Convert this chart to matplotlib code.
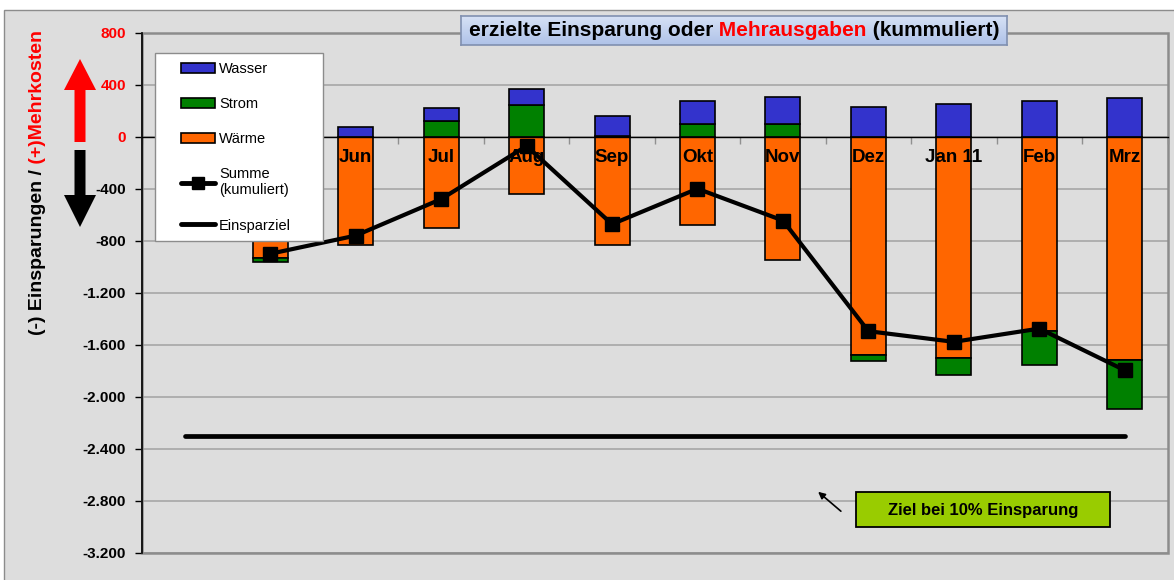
import numpy as np
import matplotlib
matplotlib.use("Agg")
import matplotlib.pyplot as plt
import matplotlib.patches as mpatches
from matplotlib.lines import Line2D
from matplotlib.legend_handler import HandlerPatch, HandlerLine2D
from matplotlib.transforms import IdentityTransform
from matplotlib.ticker import FuncFormatter, FixedLocator
from matplotlib.colors import LinearSegmentedColormap

plt.rcParams['font.family'] = ['Liberation Sans', 'DejaVu Sans']

# data (EUR, cumulative)
months = ["Apr", "Mai", "Jun", "Jul", "Aug", "Sep", "Okt", "Nov", "Dez", "Jan 11", "Feb", "Mrz"]
waerme = [np.nan, -930, -832, -700, -440, -832, -677, -948, -1681, -1702, -1495, -1715]
strom = [np.nan, -30, 0, 120, 242, 10, 103, 103, -44, -128, -258, -383]
wasser = [np.nan, 60, 77, 103, 123, 154, 177, 204, 229, 252, 275, 301]
summe = [np.nan, -900, -760, -479, -70, -672, -399, -644, -1496, -1578, -1476, -1797]
einsparziel = [-2300] * 12
yticks = list(range(-3200, 801, 400))

c_wasser = '#3333CC'
c_strom = '#008000'
c_waerme = '#FF6600'
bg = '#DDDDDD'

W, H = 1174, 580
fig = plt.figure(figsize=(W / 100, H / 100), dpi=100, facecolor='white')

# chart area
fig.add_artist(mpatches.Rectangle((4, -10), 1300, H - 9.5 + 10, transform=IdentityTransform(),
                                  facecolor=bg, edgecolor='#8C8C8C', lw=1, zorder=-1))

ax = fig.add_axes([142 / W, (H - 552.5) / H, (1167.5 - 142) / W, (552.5 - 33) / H])
ax.set_facecolor(bg)

# spines first: moving the bottom spine resets the ticks
ax.spines['bottom'].set_position(('data', 0))
ax.spines['bottom'].set_color('black')
ax.spines['bottom'].set_linewidth(1)
ax.spines['left'].set_color('black')
ax.spines['left'].set_linewidth(1.2)
ax.spines['left'].set_zorder(2.6)
ax.spines['top'].set_visible(False)
ax.spines['right'].set_visible(False)

x = np.arange(len(months))
waerme_a = np.array(waerme, dtype=float)
strom_a = np.array(strom, dtype=float)
wasser_a = np.array(wasser, dtype=float)
# positives stack up from zero, negatives stack down below Wärme
strom_bottom = np.where(strom_a >= 0, 0, waerme_a)
wasser_bottom = np.where(strom_a > 0, strom_a, 0)

bw = 0.41
ax.bar(x, waerme_a, bw, color=c_waerme, edgecolor='black', lw=1.2, zorder=1)
ax.bar(x, strom_a, bw, bottom=strom_bottom, color=c_strom, edgecolor='black', lw=1.2, zorder=1)
ax.bar(x, wasser_a, bw, bottom=wasser_bottom, color=c_wasser, edgecolor='black', lw=1.2, zorder=1)

ax.plot(x, einsparziel, color='black', lw=3.4, solid_capstyle='round', zorder=3)
ax.plot(x, summe, color='black', lw=3, marker='s', markersize=9.5, zorder=3)

ax.set_xlim(-0.5, len(months) - 0.5)
ax.set_ylim(-3200, 800)

# grid below bars, category labels above bars
ax.set_yticks(yticks)
ax.yaxis.grid(True, color='#A6A6A6', lw=1.2)
ax.set_axisbelow(True)
ax.xaxis.set_zorder(1.5)

ax.yaxis.set_major_formatter(FuncFormatter(lambda v, p: f"{v:,.0f}".replace(",", ".")))
ax.tick_params(axis='y', length=5, width=1, color='black', pad=6.5, labelsize=11)
for lab, v in zip(ax.get_yticklabels(), yticks):
    lab.set_fontweight('bold')
    lab.set_color('red' if v >= 0 else 'black')

ax.set_xticks(x)
ax.set_xticklabels(months, fontsize=13.5, fontweight='bold')
ax.xaxis.set_minor_locator(FixedLocator(np.arange(-0.5, len(months), 1.0)))
ax.tick_params(axis='x', which='major', length=0, pad=9)
ax.tick_params(axis='x', which='minor', length=5, width=1, color='#909090')

ax.add_patch(mpatches.Rectangle((0, 0), 1, 1, transform=ax.transAxes, fill=False,
                                edgecolor='#8C8C8C', lw=1.8, zorder=0.6, clip_on=False))

# legend
fs = 10.5
handles = [mpatches.Patch(facecolor=c_wasser, edgecolor='black', lw=1.2),
           mpatches.Patch(facecolor=c_strom, edgecolor='black', lw=1.2),
           mpatches.Patch(facecolor=c_waerme, edgecolor='black', lw=1.2),
           Line2D([], [], color='black', lw=3.5, marker='s', markersize=8, solid_capstyle='round'),
           Line2D([], [], color='black', lw=3.5, solid_capstyle='round')]
labels = ["Wasser", "Strom", "Wärme", "Summe\n(kumuliert)", "Einsparziel"]
leg = ax.legend(handles, labels, loc='upper left', mode='expand',
                bbox_to_anchor=(155 / W, (H - 248) / H, 168 / W, 195 / H),
                bbox_transform=fig.transFigure, borderaxespad=0, fontsize=fs,
                frameon=True, fancybox=False, framealpha=1, facecolor='white', edgecolor='#8C8C8C',
                borderpad=0.6, labelspacing=1.45, handlelength=3.5, handletextpad=0.3,
                handler_map={mpatches.Patch: HandlerPatch(xpad=1.18),
                             Line2D: HandlerLine2D(xpad=1.18)})
leg.get_frame().set_linewidth(1)
leg.set_zorder(5)


def multicolor(parts, xc, yc, rotation=0, **kw):
    # centred text made of coloured pieces, coordinates in pixels
    r = fig.canvas.get_renderer()
    texts = [fig.text(0, 0, s, color=c, transform=IdentityTransform(), rotation=rotation, **kw)
             for s, c in parts]
    boxes = [t.get_window_extent(r) for t in texts]
    if rotation == 0:
        pos = xc - sum(b.width for b in boxes) / 2
        for t, b in zip(texts, boxes):
            t.set_ha('left'); t.set_va('center')
            t.set_position((pos, yc)); pos += b.width
    else:
        pos = yc - sum(b.height for b in boxes) / 2
        for t, b in zip(texts, boxes):
            t.set_ha('center'); t.set_va('bottom')
            t.set_position((xc, pos)); pos += b.height
    return texts


# title box with light blue gradient
tax = fig.add_axes([461 / W, (H - 45) / H, 546 / W, 29 / H])
grad = LinearSegmentedColormap.from_list('g', ['#AFC2E8', '#D6E1F5'])
tax.imshow(np.linspace(0, 1, 50).reshape(-1, 1), cmap=grad, aspect='auto', origin='lower')
tax.set_xticks([]); tax.set_yticks([])
for s in tax.spines.values():
    s.set_color('#8090B0'); s.set_linewidth(1.2)

multicolor([("erzielte Einsparung oder", 'black'), (" Mehrausgaben", 'red'), (" (kummuliert)", 'black')],
           734, H - 31, fontsize=15, fontweight='bold')

# y axis title
multicolor([("(-) Einsparungen /", 'black'), (" (+)Mehrkosten", 'red')],
           38, H - 182.5, rotation=90, fontsize=14, fontweight='bold')

# direction arrows
fig.add_artist(mpatches.FancyArrow(80, H - 142, 0, 83, width=11, head_width=32, head_length=31,
                                   length_includes_head=True, color='red', lw=0,
                                   transform=IdentityTransform()))
fig.add_artist(mpatches.FancyArrow(80, H - 150, 0, -77, width=11, head_width=32, head_length=32,
                                   length_includes_head=True, color='black', lw=0,
                                   transform=IdentityTransform()))

# target note
fig.add_artist(mpatches.Rectangle((856, H - 527), 254, 35, transform=IdentityTransform(),
                                  facecolor='#99CC00', edgecolor='black', lw=1.3, zorder=6))
fig.text(983, H - 510, "Ziel bei 10% Einsparung", transform=IdentityTransform(), ha='center',
         va='center', fontsize=12, fontweight='bold', zorder=7)
fig.add_artist(mpatches.FancyArrowPatch((843, H - 513), (816, H - 490), transform=IdentityTransform(),
                                        arrowstyle='-|>', mutation_scale=10, color='black', lw=1.2,
                                        zorder=7))

fig.savefig('out.png', dpi=100, facecolor='white')
